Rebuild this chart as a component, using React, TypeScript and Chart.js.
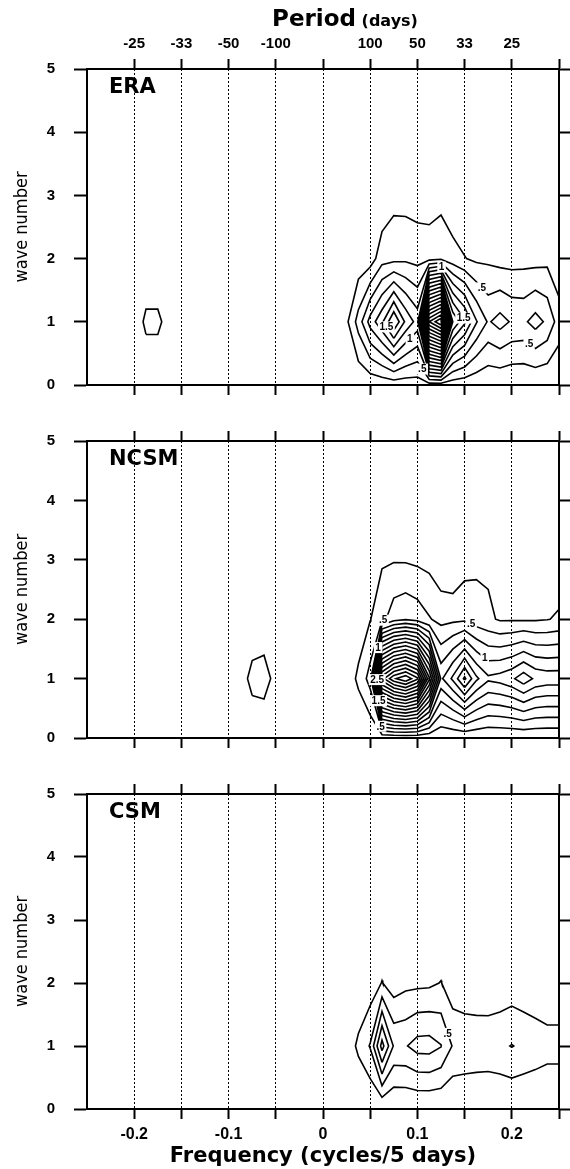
import React, { useEffect, useRef } from "react";
import { Chart, registerables } from "chart.js";
Chart.register(...registerables);

// ---------------- data ----------------
// frequency grid (cycles / 5 days)
const FREQS = [-0.25, -0.2375, -0.225, -0.2125, -0.2, -0.1875, -0.175, -0.1625, -0.15, -0.1375, -0.125, -0.1125, -0.1, -0.0875, -0.075, -0.0625, -0.05, -0.0375, -0.025, -0.0125,
  0, 0.0125, 0.025, 0.0375, 0.05, 0.0625, 0.075, 0.0875, 0.1, 0.1125, 0.125, 0.1375, 0.15, 0.1625, 0.175, 0.1875, 0.2, 0.2125, 0.225, 0.2375, 0.25];
const WAVES = [0, 1, 2, 3, 4, 5];
const LEVELS = [0.25, 0.5, 0.75, 1, 1.25, 1.5, 1.75, 2, 2.25, 2.5, 2.75, 3, 3.25, 3.5, 3.75, 4, 4.25, 4.5, 4.75, 5];

const X_TICKS = [-0.2, -0.15, -0.1, -0.05, 0, 0.05, 0.1, 0.15, 0.2, 0.25];
const PERIOD_LABELS = ["-25", "-33", "-50", "-100", "", "100", "50", "33", "25", ""];
const FREQ_LABELS = ["-0.2", "", "-0.1", "", "0", "", "0.1", "", "0.2", ""];
const WAVE_TICKS = [0, 1, 2, 3, 4, 5];

const ZERO = [0, 0, 0, 0, 0, 0, 0, 0, 0, 0, 0, 0, 0, 0, 0, 0, 0, 0, 0, 0, 0, 0, 0, 0, 0, 0, 0, 0, 0, 0, 0, 0, 0, 0, 0, 0, 0, 0, 0, 0, 0];

// ERA power spectrum, rows = wave number 0..3
const ERA_W0 = [0, 0, 0, 0, 0.02, 0.05, 0.05, 0.02, 0, 0, 0, 0, 0, 0, 0, 0, 0, 0, 0, 0,
  0, 0, 0.02, 0.04, 0.06, 0.08, 0.1, 0.1, 0.12, 0.12, 0.12, 0.1, 0.08, 0.06, 0.04, 0.03, 0.02, 0.02, 0.02, 0.02, 0.02];
const ERA_W1 = [0, 0, 0, 0, 0.1, 0.3, 0.3, 0.15, 0, 0, 0, 0, 0, 0, 0, 0, 0, 0, 0, 0,
  0.02, 0.05, 0.2, 0.6, 1.1, 1.45, 2.0, 1.45, 1.15, 4.5, 5.0, 2.0, 1.55, 1.02, 0.72, 0.85, 0.72, 0.7, 0.85, 0.7, 0.38];
const ERA_W2 = [0, 0, 0, 0, 0, 0.05, 0.05, 0, 0, 0, 0, 0, 0, 0, 0, 0, 0, 0, 0, 0,
  0, 0.02, 0.05, 0.08, 0.12, 0.4, 0.42, 0.45, 0.42, 0.4, 0.45, 0.35, 0.26, 0.2, 0.2, 0.15, 0.15, 0.16, 0.15, 0.18, 0.05];
const ERA_W3 = [0, 0, 0, 0, 0, 0, 0, 0, 0, 0, 0, 0, 0, 0, 0, 0, 0, 0, 0, 0,
  0, 0, 0, 0.02, 0.04, 0.05, 0.17, 0.15, 0.12, 0.12, 0.16, 0.06, 0.05, 0.04, 0.03, 0.03, 0.03, 0.03, 0.03, 0.03, 0.02];

// NCSM
const NCSM_W0 = [0, 0, 0, 0, 0, 0, 0, 0, 0, 0, 0, 0, 0, 0, 0, 0, 0, 0, 0, 0,
  0, 0, 0.01, 0.02, 0.03, 0.04, 0.05, 0.05, 0.05, 0.04, 0.03, 0.03, 0.03, 0.03, 0.02, 0.02, 0.02, 0.02, 0.02, 0.02, 0.02];
const NCSM_W1 = [0, 0, 0, 0, 0, 0, 0, 0, 0, 0, 0, 0, 0, 0.1, 0.35, 0.38, 0.15, 0, 0, 0,
  0.02, 0.05, 0.1, 0.3, 0.6, 3.9, 4.45, 4.7, 4.3, 2.8, 1.2, 1.55, 2.05, 1.55, 1.3, 1.35, 1.45, 1.65, 1.45, 1.4, 1.4];
const NCSM_W2 = [0, 0, 0, 0, 0, 0, 0, 0, 0, 0, 0, 0, 0, 0, 0.02, 0.05, 0.02, 0, 0, 0,
  0, 0.02, 0.05, 0.1, 0.24, 0.42, 0.65, 0.72, 0.65, 0.52, 0.42, 0.44, 0.45, 0.35, 0.3, 0.22, 0.22, 0.22, 0.22, 0.24, 0.28];
const NCSM_W3 = [0, 0, 0, 0, 0, 0, 0, 0, 0, 0, 0, 0, 0, 0, 0, 0, 0, 0, 0, 0,
  0, 0, 0, 0.02, 0.1, 0.22, 0.23, 0.225, 0.2, 0.17, 0.06, 0, 0.14, 0.2, 0.2, 0.1, 0.08, 0.08, 0.08, 0.08, 0.1];

// CSM
const CSM_W0 = ZERO;
const CSM_W1 = [0, 0, 0, 0, 0, 0, 0, 0, 0, 0, 0, 0, 0, 0, 0, 0, 0, 0, 0, 0,
  0.02, 0.05, 0.1, 0.3, 0.52, 1.35, 0.72, 0.73, 0.85, 0.86, 0.76, 0.48, 0.45, 0.43, 0.42, 0.45, 0.51, 0.45, 0.4, 0.35, 0.35];
const CSM_W2 = [0, 0, 0, 0, 0, 0, 0, 0, 0, 0, 0, 0, 0, 0, 0, 0, 0, 0, 0, 0,
  0, 0, 0.02, 0.05, 0.1, 0.26, 0.11, 0.18, 0.19, 0.2, 0.26, 0.09, 0.06, 0.06, 0.066, 0.08, 0.1, 0.08, 0.06, 0.05, 0.05];

// contour labels: [level, frequency, wave number near which the label sits]
const ERA_LABELS: [number, number, number][] = [[0.5, 0.106, 0.26], [1.5, 0.062, 0.87], [1.5, 0.152, 1.09], [1, 0.095, 0.69], [1, 0.125, 1.86], [0.5, 0.17, 1.56], [0.5, 0.218, 0.64]];
const NCSM_LABELS: [number, number, number][] = [[0.5, 0.064, 1.97], [0.5, 0.158, 1.95], [2.5, 0.062, 1.0], [1.5, 0.062, 0.64], [0.5, 0.064, 0.21], [1, 0.17, 1.32], [1, 0.053, 1.54]];
const CSM_LABELS: [number, number, number][] = [[0.5, 0.132, 1.2]];

// ---------------- contouring (marching squares) ----------------
type Pt = { x: number; y: number };

function contourLevel(xs: number[], ys: number[], z: number[][], level: number): Pt[][] {
  const pts = new Map<string, Pt>();
  const segs: [string, string][] = [];
  const lerp = (x0: number, y0: number, z0: number, x1: number, y1: number, z1: number): Pt => {
    const t = (level - z0) / (z1 - z0);
    return { x: x0 + t * (x1 - x0), y: y0 + t * (y1 - y0) };
  };
  const H = (i: number, j: number) => {
    const k = `h${i},${j}`;
    if (!pts.has(k)) pts.set(k, lerp(xs[i], ys[j], z[j][i], xs[i + 1], ys[j], z[j][i + 1]));
    return k;
  };
  const V = (i: number, j: number) => {
    const k = `v${i},${j}`;
    if (!pts.has(k)) pts.set(k, lerp(xs[i], ys[j], z[j][i], xs[i], ys[j + 1], z[j + 1][i]));
    return k;
  };
  for (let j = 0; j < ys.length - 1; j++) {
    for (let i = 0; i < xs.length - 1; i++) {
      const a = z[j][i], b = z[j][i + 1], c = z[j + 1][i + 1], d = z[j + 1][i];
      const code = (a >= level ? 1 : 0) | (b >= level ? 2 : 0) | (c >= level ? 4 : 0) | (d >= level ? 8 : 0);
      const B = () => H(i, j), T = () => H(i, j + 1), L = () => V(i, j), R = () => V(i + 1, j);
      const center = (a + b + c + d) / 4;
      switch (code) {
        case 1: case 14: segs.push([L(), B()]); break;
        case 2: case 13: segs.push([B(), R()]); break;
        case 3: case 12: segs.push([L(), R()]); break;
        case 4: case 11: segs.push([R(), T()]); break;
        case 6: case 9: segs.push([B(), T()]); break;
        case 7: case 8: segs.push([L(), T()]); break;
        case 5:
          if (center >= level) { segs.push([B(), R()]); segs.push([L(), T()]); }
          else { segs.push([L(), B()]); segs.push([R(), T()]); }
          break;
        case 10:
          if (center >= level) { segs.push([L(), B()]); segs.push([R(), T()]); }
          else { segs.push([B(), R()]); segs.push([L(), T()]); }
          break;
        default: break;
      }
    }
  }
  const adj = new Map<string, number[]>();
  segs.forEach(([p, q], idx) => {
    if (!adj.has(p)) adj.set(p, []);
    if (!adj.has(q)) adj.set(q, []);
    adj.get(p)!.push(idx);
    adj.get(q)!.push(idx);
  });
  const used = new Array(segs.length).fill(false);
  const lines: Pt[][] = [];
  for (let s = 0; s < segs.length; s++) {
    if (used[s]) continue;
    used[s] = true;
    const chain = [segs[s][0], segs[s][1]];
    let cur = segs[s][1];
    for (;;) {
      const nx = (adj.get(cur) || []).find((k) => !used[k]);
      if (nx === undefined) break;
      used[nx] = true;
      const [p, q] = segs[nx];
      cur = p === cur ? q : p;
      chain.push(cur);
    }
    cur = segs[s][0];
    for (;;) {
      const nx = (adj.get(cur) || []).find((k) => !used[k]);
      if (nx === undefined) break;
      used[nx] = true;
      const [p, q] = segs[nx];
      cur = p === cur ? q : p;
      chain.unshift(cur);
    }
    lines.push(chain.map((k) => pts.get(k)!));
  }
  return lines;
}

function contourSet(grid: number[][]) {
  const byLevel = new Map<number, Pt[][]>();
  const data: { x: number; y: number | null }[] = [];
  for (const lv of LEVELS) {
    const lines = contourLevel(FREQS, WAVES, grid, lv);
    byLevel.set(lv, lines);
    for (const line of lines) {
      for (const p of line) data.push({ x: p.x, y: p.y });
      data.push({ x: line[line.length - 1].x, y: null });
    }
  }
  return { data, byLevel };
}

// ---------------- panels ----------------
type PanelSpec = {
  name: string;
  grid: number[][];
  labels: [number, number, number][];
  top: number;
  height: number;
  topAxis: number;
  bottomAxis: number;
  period: boolean;
  freq: boolean;
};

const PANELS: PanelSpec[] = [
  { name: "ERA", grid: [ERA_W0, ERA_W1, ERA_W2, ERA_W3, ZERO, ZERO], labels: ERA_LABELS, top: 0, height: 413, topAxis: 69, bottomAxis: 10, period: true, freq: false },
  { name: "NCSM", grid: [NCSM_W0, NCSM_W1, NCSM_W2, NCSM_W3, ZERO, ZERO], labels: NCSM_LABELS, top: 413, height: 353, topAxis: 11, bottomAxis: 10, period: false, freq: false },
  { name: "CSM", grid: [CSM_W0, CSM_W1, CSM_W2, ZERO, ZERO, ZERO], labels: CSM_LABELS, top: 766, height: 403, topAxis: 12, bottomAxis: 60, period: false, freq: true },
];

const SANS = '"Liberation Sans", Arial, sans-serif';
const WIDE = '"DejaVu Sans", "Liberation Sans", sans-serif';

const fmtLevel = (v: number) => String(v).replace(/^0\./, ".");

const textPlugin = {
  id: "panelText",
  afterDatasetsDraw(chart: any, _args: any, opts: any) {
    const { ctx, chartArea, scales } = chart;
    const sx = scales.x, sy = scales.y;
    ctx.save();
    // contour labels placed on the nearest point of the matching contour
    ctx.font = `bold 10px ${SANS}`;
    ctx.textAlign = "center";
    ctx.textBaseline = "middle";
    for (const [lv, f, w] of opts.labels as [number, number, number][]) {
      const lines: Pt[][] = opts.byLevel.get(lv) || [];
      const tx = sx.getPixelForValue(f), ty = sy.getPixelForValue(w);
      let best: { x: number; y: number; d: number } | null = null;
      for (const line of lines) {
        for (let k = 0; k < line.length - 1; k++) {
          const ax = sx.getPixelForValue(line[k].x), ay = sy.getPixelForValue(line[k].y);
          const bx = sx.getPixelForValue(line[k + 1].x), by = sy.getPixelForValue(line[k + 1].y);
          const dx = bx - ax, dy = by - ay;
          const len2 = dx * dx + dy * dy || 1;
          let t = ((tx - ax) * dx + (ty - ay) * dy) / len2;
          t = Math.max(0, Math.min(1, t));
          const px = ax + t * dx, py = ay + t * dy;
          const d = (px - tx) ** 2 + (py - ty) ** 2;
          if (!best || d < best.d) best = { x: px, y: py, d };
        }
      }
      if (!best) continue;
      const txt = fmtLevel(lv);
      const wTxt = ctx.measureText(txt).width;
      ctx.fillStyle = "#fff";
      ctx.fillRect(best.x - wTxt / 2 - 1.5, best.y - 5.5, wTxt + 3, 11);
      ctx.fillStyle = "#000";
      ctx.fillText(txt, best.x, best.y + 0.5);
    }
    // panel name
    ctx.fillStyle = "#000";
    ctx.textBaseline = "alphabetic";
    ctx.textAlign = "left";
    ctx.font = `bold 21px ${WIDE}`;
    ctx.fillText(opts.label, chartArea.left + 22, chartArea.top + 24);
    if (opts.period) {
      const a = "Period";
      const b = " (days)";
      ctx.font = `bold 23px ${WIDE}`;
      const wa = ctx.measureText(a).width;
      ctx.font = `bold 16px ${WIDE}`;
      const wb = ctx.measureText(b).width;
      const cx = (chartArea.left + chartArea.right) / 2 + 22;
      const x0 = cx - (wa + wb) / 2;
      ctx.font = `bold 23px ${WIDE}`;
      ctx.fillText(a, x0, 26);
      ctx.font = `bold 16px ${WIDE}`;
      ctx.fillText(b, x0 + wa, 26);
    }
    ctx.restore();
  },
};

function makeConfig(spec: PanelSpec): any {
  const { data, byLevel } = contourSet(spec.grid);
  const xTickCfg = (labels: string[] | null, size: number) => ({
    autoSkip: false,
    maxRotation: 0,
    minRotation: 0,
    padding: 6,
    color: "#000",
    font: { family: SANS, size, weight: "bold" },
    callback: (_v: any, i: number) => (labels ? labels[i] : ""),
  });
  const setTicks = (scale: any) => {
    scale.ticks = X_TICKS.map((v) => ({ value: v }));
  };
  return {
    type: "line",
    data: {
      datasets: [
        {
          data,
          borderColor: "#000",
          borderWidth: 1.6,
          pointRadius: 0,
          fill: false,
          spanGaps: false,
          tension: 0,
          borderJoinStyle: "miter",
        },
      ],
    },
    options: {
      animation: false,
      responsive: false,
      maintainAspectRatio: false,
      events: [],
      layout: { padding: 0 },
      plugins: {
        legend: { display: false },
        tooltip: { enabled: false },
        panelText: { label: spec.name, period: spec.period, labels: spec.labels, byLevel },
      },
      scales: {
        x: {
          type: "linear",
          position: "bottom",
          min: -0.25,
          max: 0.25,
          afterBuildTicks: setTicks,
          ticks: xTickCfg(spec.freq ? FREQ_LABELS : null, 16),
          grid: { color: "#000", lineWidth: 1, drawTicks: true, tickLength: 10, tickWidth: 2, tickColor: "#000" },
          border: { display: true, color: "#000", width: 2, dash: [2, 2] },
          title: spec.freq
            ? { display: true, text: "Frequency (cycles/5 days)", color: "#000", font: { family: WIDE, size: 21, weight: "bold" }, padding: { top: 0, bottom: 0 } }
            : { display: false },
          afterFit: (s: any) => {
            s.height = spec.bottomAxis;
          },
        },
        xt: {
          type: "linear",
          position: "top",
          min: -0.25,
          max: 0.25,
          afterBuildTicks: setTicks,
          ticks: xTickCfg(spec.period ? PERIOD_LABELS : null, 15),
          grid: { drawOnChartArea: false, color: "#000", drawTicks: true, tickLength: 10, tickWidth: 2, tickColor: "#000" },
          border: { display: true, color: "#000", width: 2 },
          afterFit: (s: any) => {
            s.height = spec.topAxis;
          },
        },
        y: {
          type: "linear",
          position: "left",
          min: 0,
          max: 5,
          afterBuildTicks: (s: any) => {
            s.ticks = WAVE_TICKS.map((v) => ({ value: v }));
          },
          ticks: { color: "#000", padding: 19, font: { family: SANS, size: 15, weight: "bold" } },
          grid: { drawOnChartArea: false, color: "#000", drawTicks: true, tickLength: 13, tickWidth: 2, tickColor: "#000" },
          border: { display: true, color: "#000", width: 2 },
          title: {
            display: true,
            text: "wave number",
            color: "#000",
            font: { family: '"Liberation Sans Narrow", "DejaVu Sans Condensed", "Liberation Sans", sans-serif', size: 18 },
            padding: { top: 12, bottom: 0 },
          },
          afterFit: (s: any) => {
            s.width = 87;
          },
        },
        yr: {
          type: "linear",
          position: "right",
          min: 0,
          max: 5,
          afterBuildTicks: (s: any) => {
            s.ticks = WAVE_TICKS.map((v) => ({ value: v }));
          },
          ticks: { callback: () => "", padding: 0 },
          grid: { drawOnChartArea: false, color: "#000", drawTicks: true, tickLength: 13, tickWidth: 2, tickColor: "#000" },
          border: { display: true, color: "#000", width: 2 },
          afterFit: (s: any) => {
            s.width = 11;
          },
        },
      },
    },
    plugins: [textPlugin],
  };
}

function Panel({ spec }: { spec: PanelSpec }) {
  const ref = useRef<HTMLCanvasElement | null>(null);
  useEffect(() => {
    if (!ref.current) return;
    const chart = new Chart(ref.current, makeConfig(spec));
    return () => chart.destroy();
  }, [spec]);
  return (
    <canvas
      ref={ref}
      width={570}
      height={spec.height}
      style={{ position: "absolute", left: 0, top: spec.top, width: 570, height: spec.height }}
    />
  );
}

export default function App() {
  return (
    <div style={{ position: "absolute", left: 0, top: 0, width: 570, height: 1169, background: "#fff", overflow: "hidden" }}>
      {PANELS.map((p) => (
        <Panel key={p.name} spec={p} />
      ))}
    </div>
  );
}
